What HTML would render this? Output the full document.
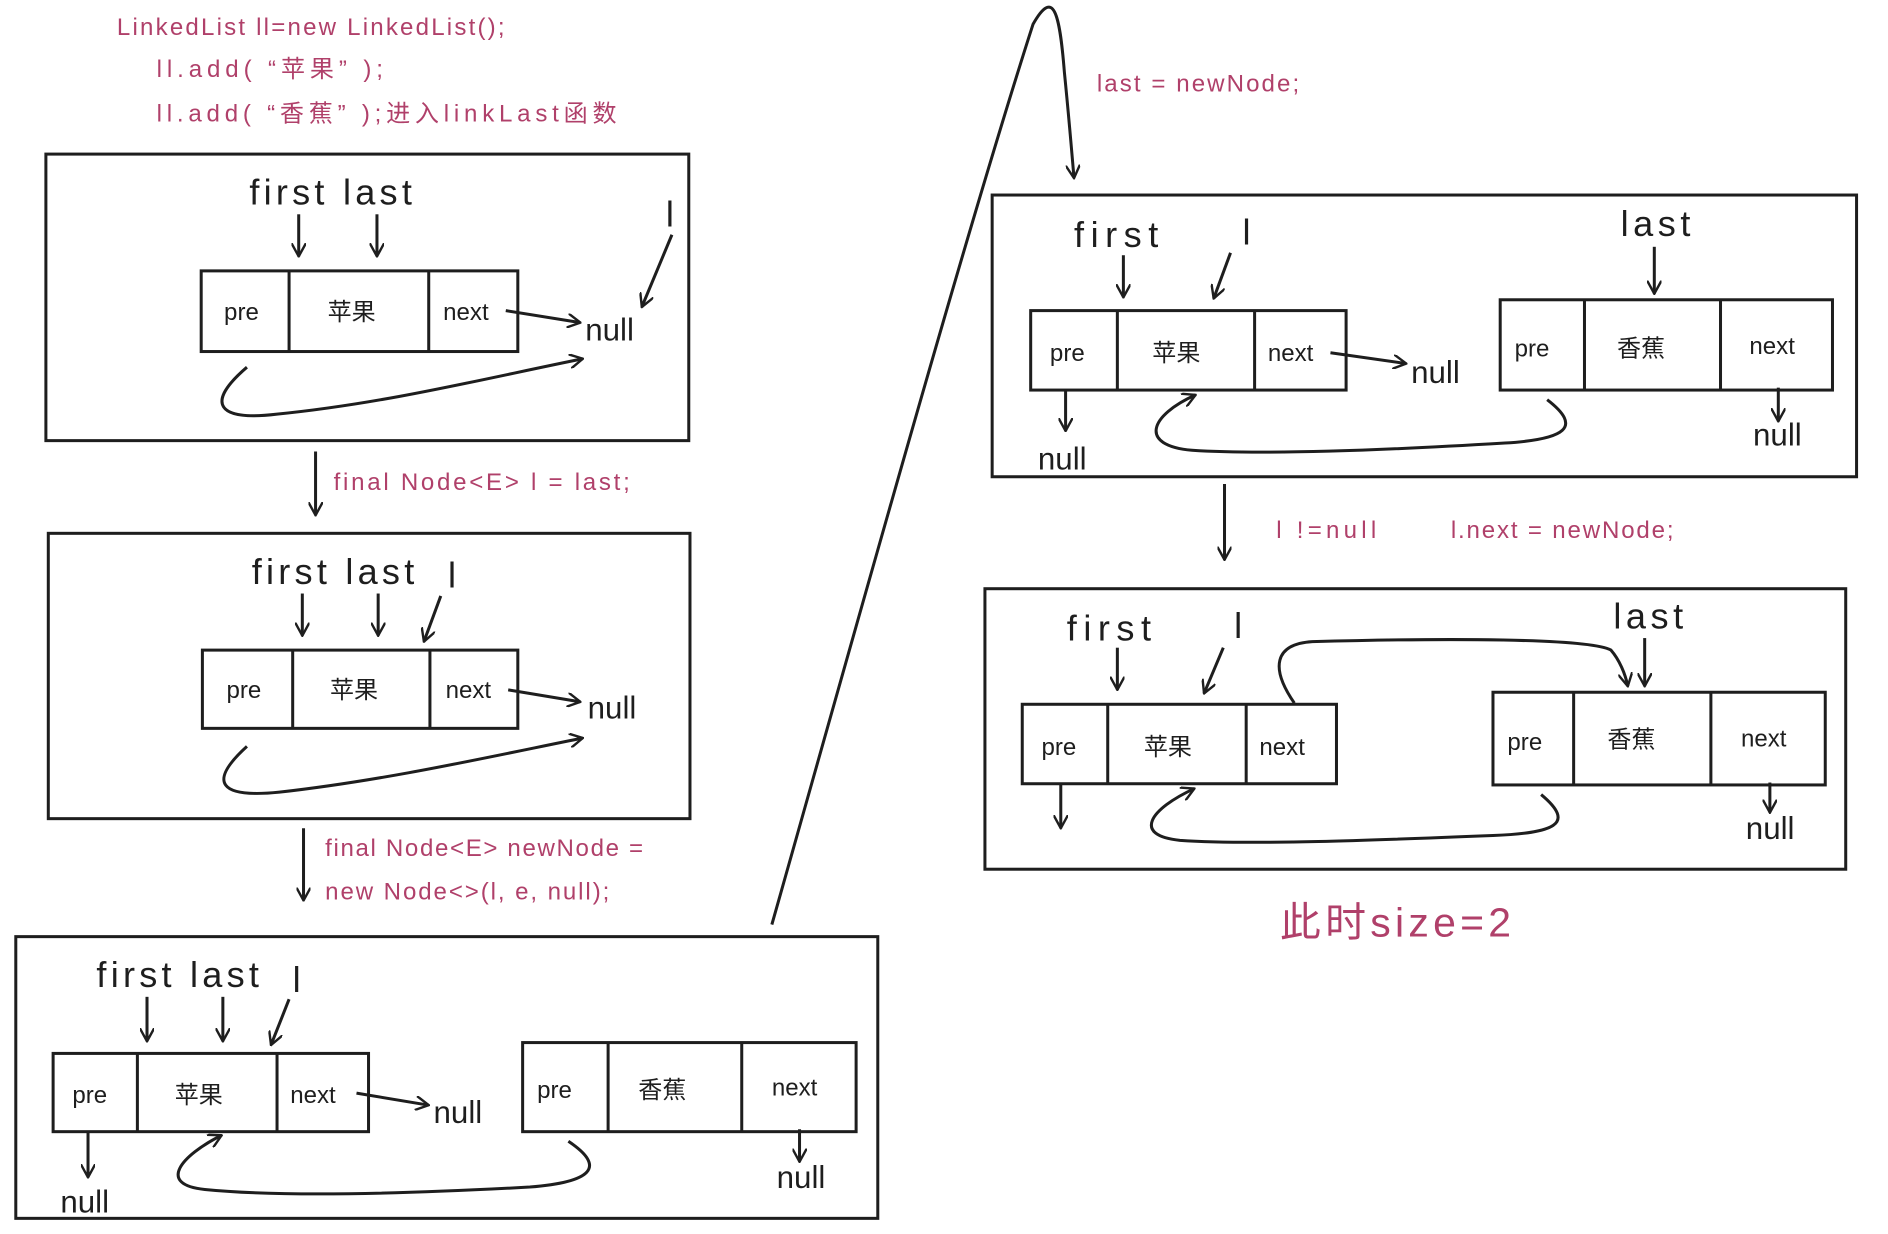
<!DOCTYPE html>
<html><head><meta charset="utf-8"><style>
html,body{margin:0;padding:0;background:#fff;}
svg{display:block;}
text{font-family:"Liberation Sans","Noto Sans CJK SC",sans-serif;}
.p{fill:#b0406a;font-size:20px;}
.b{fill:#1e1e1e;}
</style></head><body>
<svg width="1888" height="1234" viewBox="0 0 1568 1025" xmlns="http://www.w3.org/2000/svg">
<defs>
<marker id="a" viewBox="0 0 12 12" refX="11" refY="6" markerWidth="12" markerHeight="12" markerUnits="userSpaceOnUse" orient="auto">
<path d="M0,0 L11,6 L0,12" fill="none" stroke="#1e1e1e" stroke-width="2"/>
</marker>
</defs>
<g fill="none" stroke="#1e1e1e" stroke-width="2.5">
<rect x="38" y="128" width="534" height="238"/>
<rect x="167" y="225" width="263" height="67"/>
<line x1="240" y1="225" x2="240" y2="292"/><line x1="356" y1="225" x2="356" y2="292"/>
<line x1="248" y1="178" x2="248" y2="213" marker-end="url(#a)"/>
<line x1="313" y1="178" x2="313" y2="213" marker-end="url(#a)"/>
<line x1="558" y1="195" x2="533" y2="255" marker-end="url(#a)"/>
<line x1="420" y1="258" x2="482" y2="268" marker-end="url(#a)"/>
<path d="M205,305 C170,335 180,350 230,344 C320,335 400,315 484,298" marker-end="url(#a)"/>
<rect x="40" y="443" width="533" height="237"/>
<rect x="168" y="540" width="262" height="65"/>
<line x1="243" y1="540" x2="243" y2="605"/><line x1="357" y1="540" x2="357" y2="605"/>
<line x1="251" y1="493" x2="251" y2="528" marker-end="url(#a)"/>
<line x1="314" y1="493" x2="314" y2="528" marker-end="url(#a)"/>
<line x1="366" y1="495" x2="352" y2="533" marker-end="url(#a)"/>
<line x1="422" y1="573" x2="482" y2="583" marker-end="url(#a)"/>
<path d="M205,620 C172,650 182,663 232,658 C320,648 400,630 484,613" marker-end="url(#a)"/>
<line x1="262" y1="375" x2="262" y2="428" marker-end="url(#a)"/>
<line x1="252" y1="688" x2="252" y2="748" marker-end="url(#a)"/>
<rect x="13" y="778" width="716" height="234"/>
<rect x="44" y="875" width="262" height="65"/>
<line x1="114" y1="875" x2="114" y2="940"/><line x1="230" y1="875" x2="230" y2="940"/>
<line x1="122" y1="828" x2="122" y2="865" marker-end="url(#a)"/>
<line x1="185" y1="828" x2="185" y2="865" marker-end="url(#a)"/>
<line x1="240" y1="830" x2="225" y2="868" marker-end="url(#a)"/>
<line x1="296" y1="908" x2="356" y2="918" marker-end="url(#a)"/>
<line x1="73" y1="940" x2="73" y2="978" marker-end="url(#a)"/>
<rect x="434" y="866" width="277" height="74"/>
<line x1="505" y1="866" x2="505" y2="940"/><line x1="616" y1="866" x2="616" y2="940"/>
<line x1="664" y1="938" x2="664" y2="965" marker-end="url(#a)"/>
<path d="M472,948 C505,970 490,982 440,986 C330,992 230,994 170,988 C130,984 150,960 184,943" marker-end="url(#a)"/>
<path d="M641,768 C700,560 800,200 858,20 C875,-10 880,10 884,60 C888,100 890,125 892,148" marker-end="url(#a)"/>
<rect x="824" y="162" width="718" height="234"/>
<rect x="856" y="258" width="262" height="66"/>
<line x1="928" y1="258" x2="928" y2="324"/><line x1="1042" y1="258" x2="1042" y2="324"/>
<line x1="933" y1="212" x2="933" y2="247" marker-end="url(#a)"/>
<line x1="1022" y1="210" x2="1008" y2="248" marker-end="url(#a)"/>
<line x1="1374" y1="205" x2="1374" y2="244" marker-end="url(#a)"/>
<rect x="1246" y="249" width="276" height="75"/>
<line x1="1316" y1="249" x2="1316" y2="324"/><line x1="1429" y1="249" x2="1429" y2="324"/>
<line x1="1105" y1="293" x2="1168" y2="302" marker-end="url(#a)"/>
<line x1="885" y1="324" x2="885" y2="358" marker-end="url(#a)"/>
<line x1="1477" y1="322" x2="1477" y2="350" marker-end="url(#a)"/>
<path d="M1285,332 C1315,355 1300,365 1250,368 C1150,374 1050,378 990,374 C945,370 955,345 993,328" marker-end="url(#a)"/>
<line x1="1017" y1="402" x2="1017" y2="465" marker-end="url(#a)"/>
<rect x="818" y="489" width="715" height="233"/>
<rect x="849" y="585" width="261" height="66"/>
<line x1="920" y1="585" x2="920" y2="651"/><line x1="1035" y1="585" x2="1035" y2="651"/>
<line x1="928" y1="538" x2="928" y2="573" marker-end="url(#a)"/>
<line x1="1016" y1="538" x2="1000" y2="576" marker-end="url(#a)"/>
<line x1="1366" y1="530" x2="1366" y2="570" marker-end="url(#a)"/>
<rect x="1240" y="575" width="276" height="77"/>
<line x1="1307" y1="575" x2="1307" y2="652"/><line x1="1421" y1="575" x2="1421" y2="652"/>
<path d="M1075,584 C1055,555 1058,535 1090,533 C1200,530 1320,530 1338,540 C1345,548 1350,560 1352,570" marker-end="url(#a)"/>
<line x1="881" y1="651" x2="881" y2="688" marker-end="url(#a)"/>
<line x1="1470" y1="650" x2="1470" y2="675" marker-end="url(#a)"/>
<path d="M1280,660 C1310,685 1290,692 1240,694 C1140,698 1040,702 980,698 C940,694 955,672 992,655" marker-end="url(#a)"/>
</g>
<text class="p" x="97" y="29" textLength="322">LinkedList ll=new LinkedList();</text>
<text class="p" x="130" y="64" textLength="188">ll.add( “苹果” );</text>
<text class="p" x="130" y="101" textLength="382">ll.add( “香蕉” );进入linkLast函数</text>
<text class="p" x="277" y="407" textLength="246">final Node&lt;E&gt; l = last;</text>
<text class="p" x="270" y="711" textLength="264">final Node&lt;E&gt; newNode =</text>
<text class="p" x="270" y="747" textLength="236">new Node&lt;&gt;(l, e, null);</text>
<text class="p" x="911" y="76" textLength="168">last = newNode;</text>
<text class="p" x="1060" y="447" textLength="83">l !=null</text>
<text class="p" x="1205" y="447" textLength="185">l.next = newNode;</text>
<text class="p" x="1063" y="778" style="font-size:34px" textLength="192">此时size=2</text>
<g class="b" font-size="20">
<text x="186" y="266">pre</text><text x="272" y="266">苹果</text><text x="368" y="266">next</text>
<text x="188" y="580">pre</text><text x="274" y="580">苹果</text><text x="370" y="580">next</text>
<text x="60" y="916">pre</text><text x="145" y="916">苹果</text><text x="241" y="916">next</text>
<text x="446" y="912">pre</text><text x="530" y="912">香蕉</text><text x="641" y="910">next</text>
<text x="872" y="300">pre</text><text x="957" y="300">苹果</text><text x="1053" y="300">next</text>
<text x="1258" y="296">pre</text><text x="1343" y="296">香蕉</text><text x="1453" y="294">next</text>
<text x="865" y="627">pre</text><text x="950" y="627">苹果</text><text x="1046" y="627">next</text>
<text x="1252" y="623">pre</text><text x="1335" y="621">香蕉</text><text x="1446" y="620">next</text>
</g>
<g class="b" font-size="26">
<text x="486" y="283">null</text><text x="488" y="597">null</text>
<text x="360" y="933">null</text><text x="50" y="1007">null</text><text x="645" y="987">null</text>
<text x="1172" y="318">null</text><text x="862" y="390">null</text><text x="1456" y="370">null</text>
<text x="1450" y="697">null</text>
</g>
<g class="b" font-size="30">
<text x="207" y="170" textLength="135">first last</text><text x="553" y="188">l</text>
<text x="209" y="485" textLength="135">first last</text><text x="372" y="488">l</text>
<text x="80" y="820" textLength="135">first last</text><text x="243" y="824">l</text>
<text x="892" y="205" textLength="70">first</text><text x="1032" y="203">l</text><text x="1346" y="196" textLength="58">last</text>
<text x="886" y="532" textLength="70">first</text><text x="1025" y="530">l</text><text x="1340" y="522" textLength="58">last</text>
</g>
</svg>
</body></html>
